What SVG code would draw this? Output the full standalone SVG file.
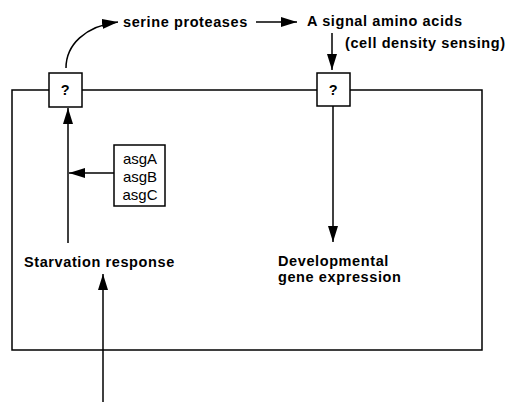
<svg xmlns="http://www.w3.org/2000/svg" width="508" height="402" viewBox="0 0 508 402">
<style>
.ln{stroke:#000;stroke-width:1.5;fill:none}
.bx{stroke:#000;stroke-width:1.5;fill:#fff}
.b{font-family:"Liberation Sans",Arial,sans-serif;font-weight:bold;font-size:14.5px;letter-spacing:0.6px;fill:#000}
.n{font-family:"Liberation Sans",Arial,sans-serif;font-size:15px;fill:#000}
</style>
<defs>
<marker id="ah" viewBox="0 0 16 10" refX="16" refY="5" markerWidth="16" markerHeight="10" markerUnits="userSpaceOnUse" orient="auto">
<path d="M0,0 L16,5 L0,10 Z" fill="#000"/>
</marker>
</defs>
<g id="frame"><path class="ln" d="M49,90 H12 V350 H482 V90 H350 M82,90 H317"/></g>
<g id="connectors">
<path class="ln" d="M68,243 V108" marker-end="url(#ah)"/>
<path class="ln" d="M114,173 H69" marker-end="url(#ah)"/>
<path class="ln" d="M66,68 C66,45 85,26 118,22" marker-end="url(#ah)"/>
<path class="ln" d="M256,22 H297" marker-end="url(#ah)"/>
<path class="ln" d="M332,33 V70" marker-end="url(#ah)"/>
<path class="ln" d="M333,106 V242" marker-end="url(#ah)"/>
<path class="ln" d="M103,402 V274" marker-end="url(#ah)"/>
</g>
<g id="q1"><rect class="bx" x="49" y="73" width="33" height="34"/><text class="b" x="65.5" y="95" text-anchor="middle">?</text></g>
<g id="q2"><rect class="bx" x="317" y="73" width="33" height="33"/><text class="b" x="333.5" y="95" text-anchor="middle">?</text></g>
<g id="asg"><rect class="bx" x="114" y="145" width="51" height="61"/>
<text class="n" x="140" y="164" text-anchor="middle">asgA</text>
<text class="n" x="140" y="182" text-anchor="middle">asgB</text>
<text class="n" x="140" y="200" text-anchor="middle">asgC</text></g>
<g id="serine"><text class="b" x="123" y="27">serine proteases</text></g>
<g id="asignal"><text class="b" x="307" y="26">A signal amino acids</text></g>
<g id="density"><text class="b" x="345" y="48">(cell density sensing)</text></g>
<g id="dev"><text class="b" x="278" y="266">Developmental</text><text class="b" x="278" y="282">gene expression</text></g>
<g id="starv"><text class="b" x="24" y="267">Starvation response</text></g>
</svg>
